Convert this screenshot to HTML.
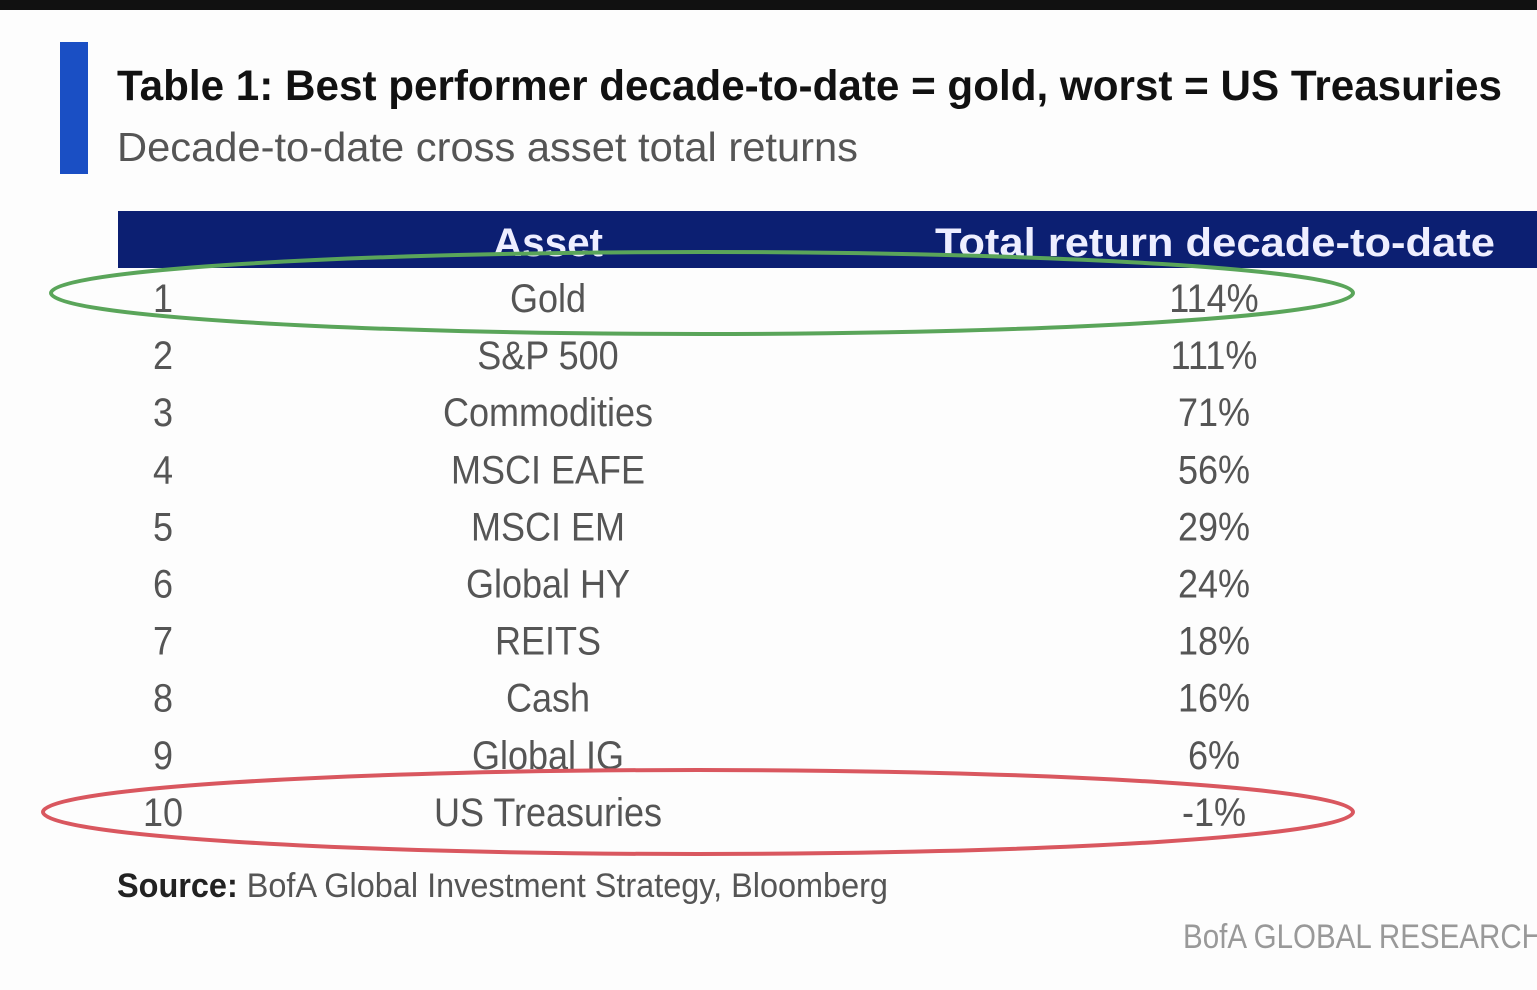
<!DOCTYPE html>
<html><head><meta charset="utf-8"><style>
html,body{margin:0;padding:0;background:#fdfdfd;}
svg{display:block;font-family:"Liberation Sans",sans-serif;}
</style></head><body>
<svg width="1537" height="990" viewBox="0 0 1537 990">
<rect x="0" y="0" width="1537" height="990" fill="#fdfdfd"/>
<rect x="0" y="0" width="1537" height="10" fill="#111"/>
<rect x="60" y="42" width="28" height="132" fill="#1a4fc4"/>
<text x="117" y="100" font-size="43" font-weight="bold" fill="#111" textLength="1385" lengthAdjust="spacingAndGlyphs">Table 1: Best performer decade-to-date = gold, worst = US Treasuries</text>
<text x="117" y="161" font-size="41" fill="#555" textLength="741" lengthAdjust="spacingAndGlyphs">Decade-to-date cross asset total returns</text>
<rect x="118" y="211" width="1419" height="57" fill="#0c1f72"/>
<text x="548" y="256" font-size="40" font-weight="bold" fill="#eef" text-anchor="middle" textLength="110" lengthAdjust="spacingAndGlyphs">Asset</text>
<text x="935" y="256" font-size="40" font-weight="bold" fill="#eef" textLength="560" lengthAdjust="spacingAndGlyphs">Total return decade-to-date</text>
<g id="rows"></g>
<ellipse cx="702" cy="293" rx="651" ry="41" fill="none" stroke="#5aa55a" stroke-width="4"/>
<ellipse cx="698" cy="812" rx="655" ry="42" fill="none" stroke="#d9575f" stroke-width="4"/>
<text x="117" y="897" font-size="34" fill="#555" textLength="771" lengthAdjust="spacingAndGlyphs"><tspan font-weight="bold" fill="#222">Source:</tspan> BofA Global Investment Strategy, Bloomberg</text>
<text x="1183" y="948" font-size="34" fill="#999" textLength="360" lengthAdjust="spacingAndGlyphs">BofA GLOBAL RESEARCH</text>
</svg>
<script>
const ranks = ["1","2","3","4","5","6","7","8","9","10"];
const assets = ["Gold","S&P 500","Commodities","MSCI EAFE","MSCI EM","Global HY","REITS","Cash","Global IG","US Treasuries"];
const returns = [114,111,71,56,29,24,18,16,6,-1];
const g = document.getElementById('rows');
const NS = "http://www.w3.org/2000/svg";
function rowY(i){ return 312 + i * 57.1; }
function mk(x, y, txt, name){
  const t = document.createElementNS(NS, 'text');
  t.setAttribute('x', x); t.setAttribute('y', y);
  t.setAttribute('font-size', '40'); t.setAttribute('fill', '#555');
  t.setAttribute('text-anchor', 'middle');
  t.setAttribute('transform', 'translate(' + x + ',0) scale(0.9,1) translate(' + (-x) + ',0)');
  t.textContent = txt;
  
  
  g.appendChild(t);
}
for (let i = 0; i < assets.length; i++) {
  const y = rowY(i);
  mk(163, y, ranks[i], 'rank-' + ranks[i]);
  mk(548, y, assets[i], 'asset-name-' + ranks[i]);
  mk(1214, y, returns[i] + '%', 'return-value-' + ranks[i]);
}
</script>
</body></html>
